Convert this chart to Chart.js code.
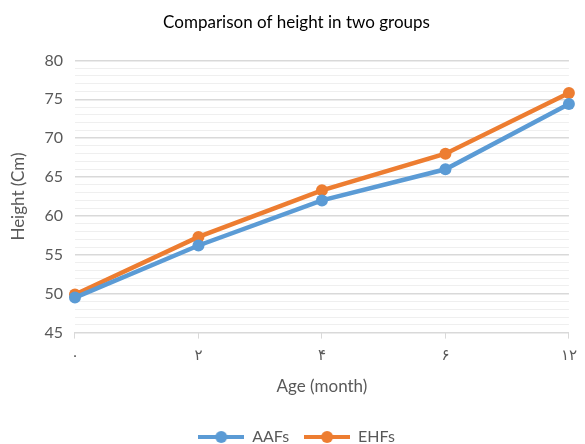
<!DOCTYPE html>
<html>
<head>
<meta charset="utf-8">
<script src="https://cdn.jsdelivr.net/npm/chart.js@4.4.0/dist/chart.umd.min.js"></script>
<style>
  html, body { margin: 0; padding: 0; background: #fff; }
  #wrap { width: 585px; height: 444px; }
</style>
</head>
<body>
<div id="wrap"><canvas id="chart"></canvas></div>
<script>
// Data
const ages = ['۰', '۲', '۴', '۶', '۱۲'];
const aafs = [49.5, 56.2, 62.0, 66.0, 74.4];
const ehfs = [49.9, 57.3, 63.3, 68.0, 75.8];

const blue = '#5b9bd5';
const orange = '#ed7d31';
const textGray = '#595959';
const fontFamily = 'Lato, "DejaVu Sans", sans-serif';

// Legend marker: line with a dot in the middle
function legendMarker(color) {
    const c = document.createElement('canvas');
    c.width = 46;
    c.height = 14;
    const ctx = c.getContext('2d');
    ctx.strokeStyle = color;
    ctx.lineWidth = 4;
    ctx.beginPath();
    ctx.moveTo(0, 7);
    ctx.lineTo(46, 7);
    ctx.stroke();
    ctx.fillStyle = color;
    ctx.beginPath();
    ctx.arc(23, 7, 6, 0, Math.PI * 2);
    ctx.fill();
    return c;
}

function lineDataset(label, data, color) {
    return {
        label,
        data,
        borderColor: color,
        backgroundColor: color,
        borderWidth: 4.5,
        pointRadius: 6,
        pointHoverRadius: 6,
        pointBorderWidth: 0,
        tension: 0,
        fill: false,
        marker: legendMarker(color),
    };
}

// push the legend closer to the bottom edge, like the original
const legendShift = {
    id: 'legendShift',
    afterLayout(chart) {
        chart.legend.top += 11;
        chart.legend.bottom += 11;
    },
};

new Chart(document.getElementById('chart'), {
    type: 'line',
    data: {
        labels: ages,
        datasets: [lineDataset('AAFs', aafs, blue), lineDataset('EHFs', ehfs, orange)],
    },
    plugins: [legendShift],
    options: {
        responsive: true,
        maintainAspectRatio: false,
        animation: false,
        layout: { padding: { top: 2, right: 0, left: 8, bottom: 0 } },
        plugins: {
            title: {
                display: true,
                text: 'Comparison of height in two groups',
                color: '#000',
                font: { family: fontFamily, size: 17, weight: 'normal' },
                padding: { top: 10, bottom: 28 },
            },
            legend: {
                position: 'bottom',
                labels: {
                    usePointStyle: true,
                    pointStyleWidth: 46,
                    boxHeight: 14,
                    color: textGray,
                    font: { family: fontFamily, size: 16 },
                    padding: 15,
                    generateLabels(chart) {
                        return chart.data.datasets.map((ds, i) => ({
                            text: ds.label,
                            fontColor: textGray,
                            pointStyle: ds.marker,
                            strokeStyle: ds.borderColor,
                            fillStyle: ds.borderColor,
                            lineWidth: 0,
                            datasetIndex: i,
                            hidden: false,
                        }));
                    },
                },
            },
            tooltip: { enabled: false },
        },
        scales: {
            x: {
                offset: false,
                title: {
                    display: true,
                    text: 'Age (month)',
                    color: textGray,
                    font: { family: fontFamily, size: 17 },
                    padding: { top: 4, bottom: 6 },
                },
                ticks: {
                    color: textGray,
                    font: { family: fontFamily, size: 15 },
                    maxRotation: 0,
                    padding: 8,
                },
                grid: {
                    drawOnChartArea: false,
                    drawTicks: true,
                    tickLength: 6,
                    color: '#d9d9d9',
                },
                border: { display: true, color: '#d9d9d9', width: 1 },
            },
            y: {
                min: 45,
                max: 80,
                title: {
                    display: true,
                    text: 'Height (Cm)',
                    color: textGray,
                    font: { family: fontFamily, size: 17 },
                    padding: { top: 0, bottom: 4 },
                },
                ticks: {
                    stepSize: 1,
                    autoSkip: false,
                    color: textGray,
                    font: { family: fontFamily, size: 16 },
                    padding: 12,
                    callback: (v) => (v % 5 === 0 ? v : ''),
                },
                grid: {
                    drawTicks: false,
                    color: (ctx) => (ctx.tick && ctx.tick.value % 5 === 0 ? '#d9d9d9' : '#efefef'),
                    lineWidth: (ctx) => (ctx.tick && ctx.tick.value % 5 === 0 ? 1.5 : 1),
                },
                border: { display: false },
            },
        },
    },
});
</script>
</body>
</html>
